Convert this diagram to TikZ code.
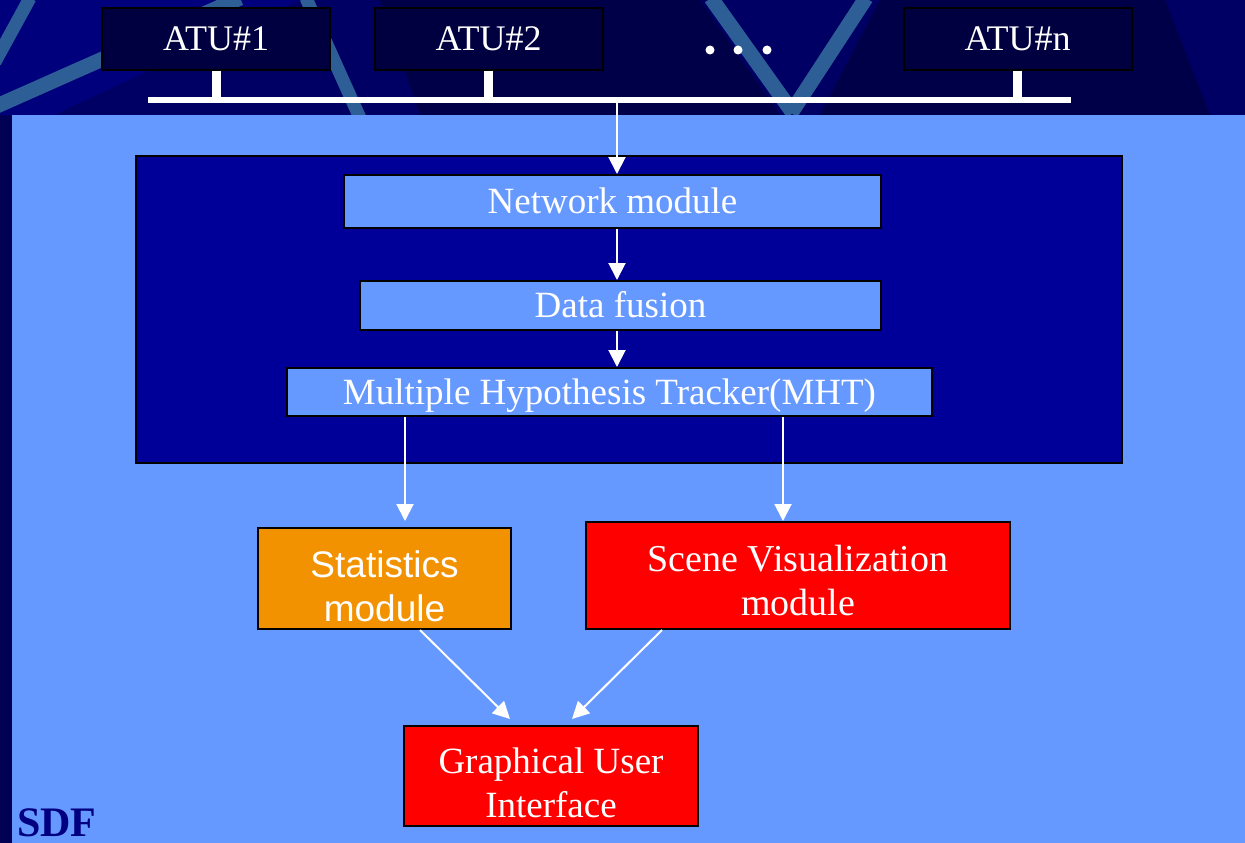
\documentclass[tikz,border=0pt]{standalone}
\usepackage{fontspec}
\setmainfont{Liberation Serif}
\newfontfamily\sansf{Liberation Sans}
\usetikzlibrary{arrows.meta}
\definecolor{navytop}{RGB}{0,0,100}
\definecolor{navydeep}{RGB}{0,0,72}
\definecolor{navylight}{RGB}{0,0,125}
\definecolor{stripecol}{RGB}{45,95,150}
\definecolor{lightbg}{RGB}{102,153,255}
\definecolor{boxnavy}{RGB}{0,0,153}
\definecolor{atufill}{RGB}{0,0,64}
\definecolor{orangebox}{RGB}{243,146,0}
\definecolor{sdfcol}{RGB}{0,0,128}
\definecolor{leftstrip}{RGB}{0,0,85}
\newcommand\topstrut[1]{\rule{0pt}{#1}}
\begin{document}
\begin{tikzpicture}[x=1pt,y=-1pt,
  atubox/.style={draw=black,line width=2pt,fill=atufill,text=white,font=\fontsize{36}{40}\selectfont,minimum width=228pt,minimum height=62pt,inner sep=0pt,text height=24pt,text depth=-4pt},
  inbox/.style={draw=black,line width=2pt,fill=lightbg,text=white,font=\fontsize{37}{44}\selectfont,inner sep=0pt,text height=24.4pt,text depth=0pt},
  outbox/.style={draw=black,line width=2pt,text=white,inner sep=0pt,align=center},
  arr/.style={draw=white,line width=2pt,-{Triangle[width=17pt,length=17pt]}},
  stub/.style={draw=white,line width=9pt},
  bus/.style={draw=white,line width=6pt},
  stripe/.style={draw=stripecol,line width=15pt},
]
\useasboundingbox (0,0) rectangle (1245,843);
% background
\fill[navytop] (0,0) rectangle (1245,843);
\begin{scope}
\clip (0,0) rectangle (1245,115);
\fill[navylight] (0,0) -- (300,0) -- (0,140) -- cycle;
\fill[navydeep] (380,0) -- (700,0) -- (780,115) -- (420,115) -- cycle;
\fill[navydeep] (880,0) -- (1165,0) -- (1210,115) -- (820,115) -- cycle;
\draw[stripe,line width=13pt] (30,-2) -- (-5,62);
\draw[stripe] (-10,109) -- (240,-2);
\draw[stripe,line width=13pt] (306,-2) -- (360,118);
\draw[stripe] (711,-2) -- (793,113);
\draw[stripe] (866,-2) -- (791,113);
\end{scope}
\fill[lightbg] (12,115) rectangle (1245,843);
\fill[leftstrip] (0,115) rectangle (12,843);

% ATU row
\node[atubox] (a1) at (216,39) {ATU\#1};
\node[atubox] (a2) at (488.5,39) {ATU\#2};
\node[atubox] (an) at (1017.5,39) {ATU\#n};
\fill[white] (710,50) circle (4.5pt) (738,50) circle (4.5pt) (767,50) circle (4.5pt);
\coordinate (busL) at (148,100);
\coordinate (busR) at (1071,100);
\coordinate (bj) at (617,100);
\draw[stub] (a1.south) -- (a1.south |- busL);
\draw[stub] (a2.south) -- (a2.south |- busL);
\draw[stub] (an.south) -- (an.south |- busL);
\draw[bus] (busL) -- (busR);

% central system
\node[draw=black,line width=2pt,fill=boxnavy,minimum width=986pt,minimum height=307pt,inner sep=0pt] (core) at (629,309.5) {};
\node[inbox,minimum width=537pt,minimum height=53pt] (nm) at (612.5,201.5) {Network module};
\node[inbox,minimum width=521pt,minimum height=49pt] (df) at (620.5,305.5) {Data fusion};
\node[inbox,minimum width=645pt,minimum height=48pt] (mht) at (609.5,392) {Multiple Hypothesis Tracker(MHT)};

\draw[arr] (bj) -- (bj |- nm.north);
\draw[arr] (nm.south -| bj) -- (df.north -| bj);
\draw[arr] (df.south -| bj) -- (mht.north -| bj);

% outputs
\node[outbox,fill=orangebox,minimum width=253pt,minimum height=101pt,font=\sansf\fontsize{37}{44}\selectfont] (stat) at (384.5,578.5) {\topstrut{42pt}Statistics\\module};
\node[outbox,fill=red,minimum width=424pt,minimum height=107pt,font=\fontsize{38}{44}\selectfont] (scene) at (798,575.5) {\topstrut{36pt}Scene Visualization\\module};
\node[outbox,fill=red,minimum width=294pt,minimum height=100pt,font=\fontsize{37}{44}\selectfont] (gui) at (551,776) {\topstrut{40pt}Graphical User\\Interface};

\coordinate (m1) at ([xshift=-204.5pt]mht.south);
\coordinate (m2) at ([xshift=173.5pt]mht.south);
\draw[arr,shorten >=6pt] (m1) -- (m1 |- stat.north);
\draw[arr] (m2) -- (m2 |- scene.north);

\draw[arr] ([xshift=35.5pt]stat.south) -- ([xshift=-41pt,yshift=6pt]gui.north);
\draw[arr] ([xshift=-136pt]scene.south) -- ([xshift=21pt,yshift=6pt]gui.north);

\node[anchor=base west,inner sep=0pt,text=sdfcol,font=\bfseries\fontsize{42}{48}\selectfont] (sdf) at (17,836) {SDF};
\end{tikzpicture}
\end{document}
